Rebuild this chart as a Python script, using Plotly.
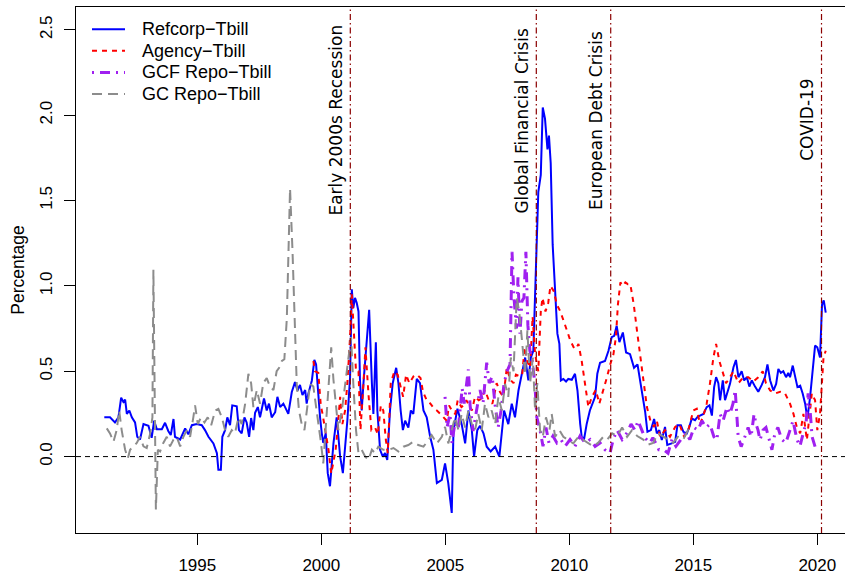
import plotly.graph_objects as go

# ---------------- data (year, percentage) ----------------
refcorp = [
(1991.25,0.23),(1991.48,0.23),(1991.68,0.20),(1991.82,0.23),(1991.93,0.345),(1992.02,0.32),(1992.09,0.333),
(1992.16,0.25),(1992.26,0.27),(1992.36,0.23),(1992.49,0.20),(1992.58,0.116),(1992.69,0.10),(1992.83,0.19),
(1993.03,0.18),(1993.16,0.11),(1993.26,0.21),(1993.37,0.16),(1993.57,0.16),(1993.70,0.198),(1993.83,0.15),
(1993.93,0.126),(1994.04,0.22),(1994.10,0.116),(1994.31,0.10),(1994.51,0.165),(1994.64,0.13),(1994.78,0.184),
(1994.98,0.19),(1995.18,0.184),(1995.31,0.155),(1995.45,0.116),(1995.65,0.077),(1995.79,0.02),(1995.85,-0.077),
(1995.95,-0.077),(1996.01,0.116),(1996.12,0.155),(1996.21,0.23),(1996.32,0.184),(1996.41,0.30),(1996.59,0.295),
(1996.68,0.155),(1996.79,0.136),(1996.90,0.23),(1996.99,0.20),(1997.09,0.116),(1997.17,0.226),(1997.26,0.155),
(1997.33,0.256),(1997.44,0.29),(1997.53,0.23),(1997.69,0.34),(1997.80,0.27),(1997.89,0.31),(1998.00,0.23),
(1998.14,0.26),(1998.23,0.35),(1998.34,0.29),(1998.47,0.31),(1998.54,0.29),(1998.67,0.25),(1998.81,0.378),
(1998.94,0.436),(1999.04,0.387),(1999.14,0.42),(1999.24,0.36),(1999.35,0.39),(1999.41,0.31),(1999.48,0.37),
(1999.62,0.446),(1999.72,0.566),(1999.79,0.54),(1999.86,0.39),(1999.95,0.23),(2000.02,0.136),(2000.08,0.08),
(2000.18,0.136),(2000.26,-0.097),(2000.35,-0.174),(2000.49,0.077),(2000.62,0.23),(2000.76,0.0),(2000.87,-0.097),
(2000.96,0.04),(2001.05,0.21),(2001.16,0.465),(2001.23,0.98),(2001.29,0.87),(2001.36,0.93),(2001.43,0.90),
(2001.50,0.85),(2001.56,0.446),(2001.63,0.27),(2001.70,0.43),(2001.81,0.66),(2001.93,0.86),(2002.04,0.43),
(2002.10,0.25),(2002.20,0.67),(2002.26,0.27),(2002.37,0.04),(2002.48,0.0),(2002.57,0.02),(2002.66,-0.02),
(2002.77,0.27),(2002.88,0.43),(2003.02,0.52),(2003.11,0.43),(2003.20,0.27),(2003.29,0.155),(2003.38,0.21),
(2003.51,0.17),(2003.61,0.27),(2003.71,0.25),(2003.85,0.455),(2003.98,0.43),(2004.12,0.27),(2004.25,0.23),
(2004.39,0.116),(2004.52,0.04),(2004.66,-0.155),(2004.86,-0.136),(2004.99,-0.04),(2005.12,-0.155),(2005.26,-0.33),
(2005.33,0.155),(2005.49,0.28),(2005.66,0.19),(2005.80,0.077),(2005.93,0.27),(2006.07,0.155),(2006.16,0.0),
(2006.29,0.155),(2006.40,0.18),(2006.54,0.136),(2006.67,0.058),(2006.83,0.03),(2007.01,0.058),(2007.18,0.0),
(2007.37,0.27),(2007.54,0.19),(2007.68,0.31),(2007.81,0.23),(2007.95,0.387),(2008.08,0.48),(2008.22,0.58),
(2008.35,0.446),(2008.45,0.58),(2008.55,0.62),(2008.66,1.10),(2008.75,1.55),(2008.85,1.65),(2008.93,2.045),
(2009.02,1.98),(2009.12,1.80),(2009.18,1.88),(2009.25,1.72),(2009.33,1.24),(2009.43,0.97),(2009.52,0.72),
(2009.60,0.66),(2009.66,0.446),(2009.76,0.455),(2009.87,0.44),(2009.96,0.455),(2010.10,0.45),(2010.23,0.485),
(2010.33,0.387),(2010.44,0.19),(2010.50,0.116),(2010.60,0.106),(2010.70,0.19),(2010.83,0.27),(2011.04,0.35),
(2011.13,0.485),(2011.24,0.55),(2011.44,0.56),(2011.58,0.62),(2011.71,0.70),(2011.81,0.707),(2011.91,0.766),
(2012.02,0.67),(2012.16,0.727),(2012.29,0.61),(2012.45,0.60),(2012.61,0.52),(2012.75,0.54),(2012.86,0.446),
(2012.96,0.35),(2013.06,0.26),(2013.15,0.145),(2013.29,0.155),(2013.42,0.22),(2013.53,0.136),(2013.63,0.155),
(2013.73,0.097),(2013.86,0.174),(2013.95,0.068),(2014.13,0.077),(2014.27,0.087),(2014.36,0.184),(2014.50,0.184),
(2014.60,0.145),(2014.74,0.136),(2014.84,0.174),(2014.94,0.223),(2015.07,0.213),(2015.17,0.232),(2015.27,0.24),
(2015.41,0.25),(2015.54,0.29),(2015.65,0.30),(2015.75,0.24),(2015.84,0.407),(2015.92,0.465),(2016.01,0.43),
(2016.08,0.33),(2016.19,0.446),(2016.28,0.33),(2016.37,0.37),(2016.48,0.426),(2016.62,0.523),(2016.72,0.566),
(2016.82,0.465),(2016.95,0.50),(2017.05,0.446),(2017.16,0.465),(2017.26,0.41),(2017.36,0.446),(2017.49,0.41),
(2017.62,0.38),(2017.76,0.42),(2017.89,0.465),(2017.99,0.54),(2018.10,0.446),(2018.23,0.387),(2018.34,0.426),
(2018.43,0.513),(2018.53,0.49),(2018.63,0.50),(2018.74,0.465),(2018.83,0.49),(2018.90,0.465),(2019.01,0.533),
(2019.10,0.465),(2019.20,0.407),(2019.31,0.415),(2019.41,0.37),(2019.51,0.31),(2019.60,0.223),(2019.71,0.35),
(2019.82,0.50),(2019.91,0.65),(2020.00,0.64),(2020.11,0.58),(2020.19,0.89),(2020.26,0.915),(2020.34,0.843),
]

agency = [
(1999.68,0.56),(1999.75,0.50),(1999.88,0.49),(1999.98,0.30),(2000.05,0.25),(2000.15,0.155),(2000.29,0.04),
(2000.40,-0.10),(2000.49,-0.02),(2000.58,0.04),(2000.66,0.17),(2000.76,0.35),(2000.85,0.19),(2000.96,0.27),
(2001.05,0.43),(2001.16,0.70),(2001.23,0.95),(2001.30,0.74),(2001.40,0.50),(2001.50,0.50),(2001.58,0.155),
(2001.70,0.43),(2001.78,0.64),(2001.90,0.37),(2002.02,0.155),(2002.17,0.17),(2002.28,0.13),(2002.40,0.30),
(2002.50,0.27),(2002.60,0.10),(2002.68,0.02),(2002.80,0.43),(2002.95,0.50),(2003.08,0.48),(2003.20,0.40),
(2003.30,0.35),(2003.42,0.48),(2003.55,0.43),(2003.72,0.47),(2003.85,0.48),(2004.00,0.46),(2004.10,0.38),
(2004.25,0.33),(2004.40,0.31),(2004.55,0.28),(2004.66,0.27),(2004.80,0.25),(2004.95,0.23),(2005.06,0.21),
(2005.15,0.30),(2005.30,0.26),(2005.40,0.25),(2005.50,0.33),(2005.65,0.29),(2005.75,0.30),(2005.85,0.33),
(2005.98,0.29),(2006.07,0.27),(2006.20,0.35),(2006.35,0.33),(2006.47,0.34),(2006.60,0.39),(2006.75,0.33),
(2006.90,0.31),(2007.07,0.43),(2007.20,0.38),(2007.34,0.35),(2007.48,0.52),(2007.62,0.45),(2007.75,0.43),
(2007.85,0.48),(2008.00,0.47),(2008.10,0.48),(2008.20,0.64),(2008.30,0.56),(2008.42,0.52),(2008.52,0.82),
(2008.62,0.60),(2008.75,0.50),(2008.85,0.85),(2008.92,0.93),(2009.04,0.85),(2009.15,0.90),(2009.24,1.00),
(2009.37,0.97),(2009.50,0.89),(2009.64,0.85),(2009.75,0.80),(2009.84,0.756),(2009.95,0.72),(2010.04,0.68),
(2010.12,0.66),(2010.21,0.63),(2010.30,0.64),(2010.37,0.66),(2010.50,0.56),(2010.64,0.41),(2010.77,0.29),
(2010.91,0.35),(2011.07,0.39),(2011.21,0.31),(2011.34,0.37),(2011.52,0.465),(2011.65,0.54),(2011.78,0.60),
(2011.88,0.70),(2011.96,0.89),(2012.06,1.02),(2012.16,1.00),(2012.26,1.02),(2012.36,1.01),(2012.46,1.01),
(2012.60,0.89),(2012.73,0.737),(2012.86,0.58),(2013.00,0.426),(2013.13,0.29),(2013.27,0.21),(2013.42,0.174),
(2013.53,0.21),(2013.66,0.116),(2013.86,0.155),(2014.06,0.116),(2014.27,0.174),(2014.44,0.19),(2014.63,0.116),
(2014.80,0.155),(2015.00,0.27),(2015.14,0.28),(2015.27,0.19),(2015.41,0.24),(2015.54,0.31),(2015.67,0.426),
(2015.81,0.58),(2015.92,0.66),(2016.05,0.56),(2016.19,0.49),(2016.32,0.43),(2016.48,0.465),(2016.62,0.50),
(2016.82,0.43),(2017.02,0.465),(2017.22,0.465),(2017.42,0.44),(2017.62,0.465),(2017.80,0.50),(2017.93,0.43),
(2018.10,0.387),(2018.30,0.37),(2018.50,0.38),(2018.70,0.37),(2018.90,0.31),(2019.04,0.25),(2019.17,0.174),
(2019.31,0.136),(2019.44,0.25),(2019.58,0.097),(2019.68,0.25),(2019.78,0.37),(2019.91,0.33),(2020.00,0.155),
(2020.11,0.25),(2020.25,0.58),(2020.34,0.62),
]

gcf_repo = [
(2004.99,0.35),(2005.07,0.17),(2005.19,0.25),(2005.27,0.08),(2005.39,0.20),(2005.52,0.16),(2005.68,0.40),
(2005.76,0.31),(2005.93,0.51),(2006.00,0.30),(2006.12,0.15),(2006.24,0.25),(2006.40,0.39),(2006.52,0.31),
(2006.67,0.55),(2006.77,0.43),(2006.89,0.47),(2007.01,0.30),(2007.13,0.17),(2007.25,0.27),(2007.37,0.43),
(2007.49,0.50),(2007.61,0.54),(2007.69,1.20),(2007.77,0.93),(2007.87,0.75),(2007.93,1.05),(2008.01,0.72),
(2008.09,0.91),(2008.17,0.93),(2008.25,1.20),(2008.33,0.77),(2008.41,0.62),(2008.49,0.58),(2008.61,0.43),
(2008.69,0.23),(2008.82,0.155),(2008.94,0.06),(2009.06,0.17),(2009.18,0.08),(2009.34,0.12),(2009.50,0.08),
(2009.66,0.10),(2009.83,0.06),(2010.03,0.10),(2010.23,0.06),(2010.43,0.12),(2010.64,0.08),(2010.84,0.10),
(2011.04,0.06),(2011.24,0.08),(2011.44,0.04),(2011.64,0.02),(2011.77,0.10),(2011.93,0.155),(2012.13,0.10),
(2012.33,0.14),(2012.49,0.19),(2012.65,0.155),(2012.77,0.21),(2012.89,0.17),(2013.05,0.11),(2013.25,0.08),
(2013.37,0.11),(2013.49,0.077),(2013.61,0.04),(2013.81,0.04),(2013.98,0.02),(2014.14,0.10),(2014.30,0.06),
(2014.50,0.10),(2014.70,0.14),(2014.86,0.10),(2015.03,0.17),(2015.19,0.155),(2015.35,0.21),(2015.51,0.17),
(2015.67,0.19),(2015.83,0.116),(2015.95,0.097),(2016.08,0.25),(2016.20,0.21),(2016.36,0.29),(2016.48,0.25),
(2016.60,0.31),(2016.69,0.39),(2016.81,0.116),(2016.93,0.058),(2017.09,0.12),(2017.21,0.17),(2017.33,0.116),
(2017.45,0.25),(2017.53,0.19),(2017.61,0.155),(2017.69,0.097),(2017.81,0.155),(2017.93,0.17),(2018.05,0.10),
(2018.17,0.04),(2018.29,0.136),(2018.41,0.17),(2018.57,0.10),(2018.73,0.08),(2018.90,0.155),(2019.02,0.21),
(2019.18,0.10),(2019.30,0.06),(2019.43,0.136),(2019.55,0.20),(2019.63,0.37),(2019.71,0.27),(2019.79,0.116),
(2019.91,0.058),(2019.99,0.04),
]

gc_repo = [
(1991.35,0.165),(1991.48,0.136),(1991.62,0.087),(1991.75,0.155),(1991.85,0.27),(1991.95,0.155),(1992.09,0.04),
(1992.20,-0.01),(1992.29,0.04),(1992.42,0.06),(1992.56,0.08),(1992.69,0.116),(1992.83,0.06),(1992.96,0.05),
(1993.10,0.136),(1993.19,0.23),(1993.23,1.095),(1993.33,-0.31),(1993.41,0.04),(1993.50,0.03),(1993.63,0.08),
(1993.77,0.116),(1993.90,0.06),(1994.04,0.10),(1994.17,0.116),(1994.31,0.06),(1994.44,0.116),(1994.58,0.155),
(1994.71,0.116),(1994.84,0.23),(1994.91,0.30),(1995.02,0.19),(1995.15,0.23),(1995.29,0.20),(1995.42,0.23),
(1995.56,0.184),(1995.72,0.27),(1995.85,0.28),(1995.99,0.23),(1996.12,0.155),(1996.25,0.116),(1996.39,0.155),
(1996.52,0.136),(1996.66,0.23),(1996.79,0.19),(1996.93,0.31),(1997.06,0.485),(1997.17,0.43),(1997.26,0.29),
(1997.40,0.39),(1997.53,0.31),(1997.66,0.43),(1997.80,0.46),(1997.93,0.41),(1998.07,0.39),(1998.20,0.50),
(1998.30,0.52),(1998.41,0.56),(1998.51,0.57),(1998.61,0.81),(1998.74,1.57),(1998.84,1.20),(1998.94,0.72),
(1999.01,0.426),(1999.10,0.27),(1999.21,0.19),(1999.32,0.155),(1999.41,0.27),(1999.55,0.426),(1999.68,0.41),
(1999.78,0.31),(1999.88,0.19),(1999.99,0.077),(2000.08,-0.04),(2000.18,0.155),(2000.29,0.387),(2000.40,0.64),
(2000.49,0.45),(2000.56,0.35),(2000.69,0.155),(2000.83,0.27),(2000.96,0.426),(2001.09,0.58),(2001.20,0.70),
(2001.29,0.43),(2001.40,0.155),(2001.50,0.02),(2001.63,0.04),(2001.77,0.0),(2001.90,-0.02),(2002.04,0.04),
(2002.17,0.02),(2002.30,0.058),(2002.50,0.04),(2002.71,0.04),(2002.91,0.05),(2003.11,0.03),(2003.31,0.058),
(2003.51,0.068),(2003.71,0.087),(2003.91,0.068),(2004.12,0.058),(2004.32,0.097),(2004.45,0.126),(2004.66,0.077),
(2004.86,0.116),(2004.99,0.174),(2005.12,0.077),(2005.26,0.155),(2005.39,0.23),(2005.53,0.155),(2005.66,0.25),
(2005.80,0.17),(2005.93,0.27),(2006.07,0.19),(2006.20,0.155),(2006.33,0.25),(2006.47,0.155),(2006.60,0.31),
(2006.74,0.23),(2006.87,0.27),(2007.01,0.19),(2007.14,0.35),(2007.28,0.27),(2007.41,0.426),(2007.54,0.35),
(2007.64,0.58),(2007.75,0.50),(2007.88,0.93),(2007.98,0.85),(2008.08,0.70),(2008.22,0.48),(2008.31,0.74),
(2008.42,0.43),(2008.53,0.58),(2008.62,0.27),(2008.71,0.43),(2008.82,0.155),(2008.93,0.116),(2009.06,0.23),
(2009.20,0.155),(2009.29,0.25),(2009.43,0.116),(2009.60,0.155),(2009.76,0.116),(2009.96,0.097),(2010.16,0.077),
(2010.37,0.116),(2010.57,0.097),(2010.76,0.08),(2010.96,0.06),(2011.16,0.08),(2011.37,0.116),(2011.53,0.10),
(2011.73,0.136),(2011.93,0.12),(2012.13,0.17),(2012.33,0.116),(2012.53,0.155),(2012.74,0.12),(2012.98,0.10),
(2013.18,0.07),(2013.38,0.08),(2013.58,0.136),(2013.78,0.12),(2013.98,0.10),(2014.18,0.08),(2014.38,0.116),
(2014.59,0.10),(2014.79,0.155),(2014.95,0.126),
]

series_names = ["Refcorp\u2212Tbill", "Agency\u2212Tbill", "GCF Repo\u2212Tbill", "GC Repo\u2212Tbill"]
event_years = [2001.17, 2008.67, 2011.67, 2020.17]
event_labels = ["Early 2000s Recession", "Global Financial Crisis", "European Debt Crisis", "COVID-19"]
x_ticks = [1995, 2000, 2005, 2010, 2015, 2020]
y_ticks = [0.0, 0.5, 1.0, 1.5, 2.0, 2.5]

# ---------------- styling ----------------
styles = [
    dict(color="#0000FF", width=2, dash="solid"),
    dict(color="#FF0000", width=2, dash="5px,5px"),
    dict(color="#A020F0", width=3, dash="2px,6px,10px,6px"),
    dict(color="#8C8C8C", width=2, dash="10px,6px"),
]
FONT = "Liberation Sans, Arial, Helvetica, sans-serif"
W, H = 845, 575
ML, MR, MT, MB = 76, 0, 7, 38
PW, PH = W - ML - MR, H - MT - MB


def px_to_paper(px, py):
    return (px - ML) / PW, (H - MB - py) / PH


fig = go.Figure()
for name, data, st in zip(series_names, [refcorp, agency, gcf_repo, gc_repo], styles):
    fig.add_trace(go.Scatter(
        x=[d[0] for d in data], y=[d[1] for d in data], mode="lines", name=name,
        line=dict(color=st["color"], width=st["width"], dash=st["dash"]),
        showlegend=False,
    ))

# legend (borderless, like R's bty="n")
for i, (name, st) in enumerate(zip(series_names, styles)):
    row_y = 29.5 + i * 21.7
    x0, y0 = px_to_paper(92, row_y)
    x1, _ = px_to_paper(125, row_y)
    xt, _ = px_to_paper(140, row_y)
    fig.add_shape(type="line", xref="paper", yref="paper", x0=x0, x1=x1, y0=y0, y1=y0,
                  line=dict(color=st["color"], width=st["width"], dash=st["dash"]))
    fig.add_annotation(x=xt, y=y0, xref="paper", yref="paper", text=name, showarrow=False,
                       xanchor="left", yanchor="middle",
                       font=dict(family=FONT, size=18, color="black"))

# zero reference line
fig.add_hline(y=0, line=dict(color="black", width=1, dash="5px,4px"))

# event lines and labels
for yr, lab in zip(event_years, event_labels):
    fig.add_shape(type="line", xref="x", yref="paper", x0=yr, x1=yr, y0=0, y1=1,
                  line=dict(color="#8B0000", width=1.2, dash="6px,3px,1.5px,3px"))
    fig.add_annotation(x=yr, y=1.97, xref="x", yref="y", text=lab, showarrow=False,
                       textangle=-90, xanchor="right", yanchor="middle", xshift=-2,
                       font=dict(family="DejaVu Sans, sans-serif", size=17, color="black"))

fig.update_layout(
    width=W, height=H,
    margin=dict(l=ML, r=MR, t=MT, b=MB),
    paper_bgcolor="white", plot_bgcolor="white",
    font=dict(family=FONT, size=17, color="black"),
    showlegend=False,
)
fig.update_xaxes(range=[1990.109, 2021.117], tickvals=x_ticks, ticks="outside", ticklen=11,
                 tickcolor="black", showline=True, linecolor="black", linewidth=1.3, mirror=True,
                 showgrid=False, zeroline=False, tickfont=dict(family=FONT, size=17),
                 ticklabelstandoff=5)
fig.update_yaxes(range=[-0.4477, 2.6337], tickvals=y_ticks, tickformat=".1f", ticks="outside",
                 ticklen=11, tickcolor="black", showline=True, linecolor="black", linewidth=1.3,
                 showgrid=False, zeroline=False, tickangle=-90, tickfont=dict(family=FONT, size=17),
                 ticklabelstandoff=5,
                 title=dict(text="Percentage", font=dict(family=FONT, size=17.5), standoff=7))

fig.write_html("out.html")
